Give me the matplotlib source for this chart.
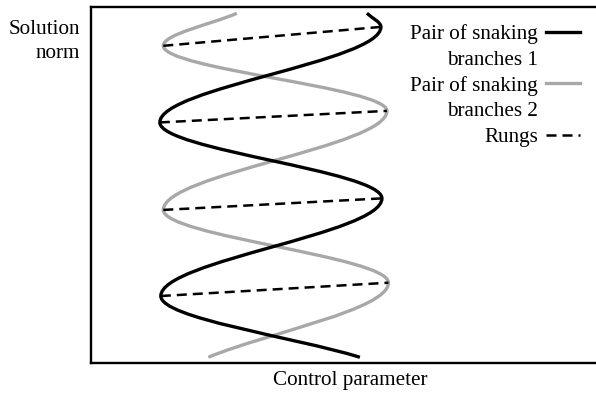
import matplotlib
matplotlib.use("Agg")
import matplotlib.pyplot as plt
from matplotlib.path import Path
from matplotlib.patches import PathPatch
from matplotlib.lines import Line2D

plt.rcParams['font.family'] = ['Liberation Serif', 'DejaVu Serif']

# Key points (control parameter, solution norm), top to bottom
# Black pair of snaking branches: start, R, L, R, L turning points, end
black_x = [5.51, 5.79, 1.37, 5.81, 1.39, 5.37]
black_y = [9.98, 9.59, 6.86, 4.69, 1.90, 0.15]
# Gray pair of snaking branches: start, L, R, L, R turning points, end
gray_x = [2.91, 1.44, 5.91, 1.44, 5.94, 2.34]
gray_y = [9.98, 9.05, 7.19, 4.36, 2.28, 0.15]
# Rungs: left fold point -> right fold point
rung_x0 = [1.44, 1.37, 1.44, 1.39]
rung_y0 = [9.05, 6.86, 4.36, 1.90]
rung_x1 = [5.79, 5.91, 5.81, 5.94]
rung_y1 = [9.59, 7.19, 4.69, 2.28]

labels = ['Pair of snaking', 'branches 1', 'Pair of snaking', 'branches 2', 'Rungs']
xlabel = 'Control parameter'
ylabel = 'Solution\nnorm'

BLACK = '#000000'
GRAY = '#a8a8a8'


def snake_path(xs, ys, k=0.3634):
    """Smooth path through fold points: vertical tangent at each fold,
    chord tangent at the two free ends."""
    verts = [(xs[0], ys[0])]
    codes = [Path.MOVETO]
    n = len(xs)
    for i in range(n - 1):
        x0, y0, x1, y1 = xs[i], ys[i], xs[i + 1], ys[i + 1]
        dy = y1 - y0
        if i == 0:
            p1 = (x0 + (x1 - x0) / 3.0, y0 + dy / 3.0)
        else:
            p1 = (x0, y0 + k * dy)
        if i == n - 2:
            p2 = (x1 - (x1 - x0) / 3.0, y1 - dy / 3.0)
        else:
            p2 = (x1, y1 - k * dy)
        verts += [p1, p2, (x1, y1)]
        codes += [Path.CURVE4] * 3
    return Path(verts, codes)


fig = plt.figure(figsize=(5.96, 3.93), dpi=100)
ax = fig.add_axes([91.3 / 596, 1 - 362.5 / 393, (598 - 91.3) / 596, 355.2 / 393])
ax.set_xlim(0, 10.13)
ax.set_ylim(0, 10.15)

ax.add_patch(PathPatch(snake_path(gray_x, gray_y), fill=False, edgecolor=GRAY,
                       lw=2.4, capstyle='butt', zorder=2))
ax.add_patch(PathPatch(snake_path(black_x, black_y), fill=False, edgecolor=BLACK,
                       lw=2.4, capstyle='butt', zorder=3))
dash = (0, (4.0, 2.4))
for x0, y0, x1, y1 in zip(rung_x0, rung_y0, rung_x1, rung_y1):
    ax.plot([x0, x1], [y0, y1], color=BLACK, lw=1.8, linestyle=dash, zorder=4)

for s in ax.spines.values():
    s.set_linewidth(1.7)
ax.set_xticks([])
ax.set_yticks([])

ax.set_xlabel(xlabel, fontsize=15.2, va='top')
ax.xaxis.set_label_coords(0.5106, -0.024)
ax.set_ylabel(ylabel, fontsize=15.2, rotation=0, ha='right', va='top', linespacing=1.35)
ax.yaxis.set_label_coords(-0.0223, 0.9643)

handles = [
    Line2D([], [], color=BLACK, lw=2.4),
    Line2D([], [], color='none', lw=0),
    Line2D([], [], color=GRAY, lw=2.4),
    Line2D([], [], color='none', lw=0),
    Line2D([], [], color=BLACK, lw=1.8, linestyle=dash),
]
ax.legend(handles, labels, loc='upper right', bbox_to_anchor=(0.9645, 0.9526),
          frameon=False, fontsize=15.2, markerfirst=False, handlelength=1.6,
          handletextpad=0.4, labelspacing=0.28, borderpad=0, borderaxespad=0)

fig.savefig('out.png', dpi=100)
